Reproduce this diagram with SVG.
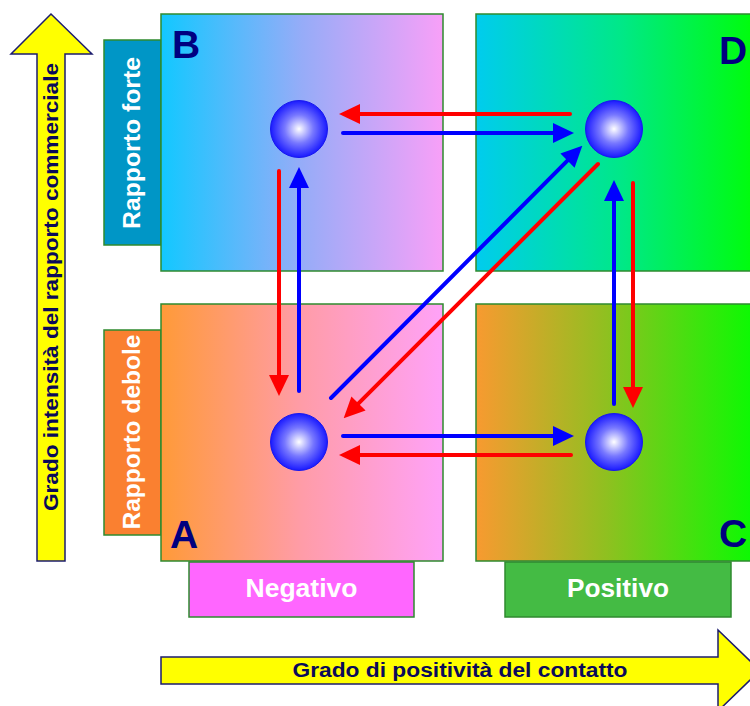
<svg xmlns="http://www.w3.org/2000/svg" width="750" height="706" viewBox="0 0 750 706">
<style>
.quad{stroke:#2f8a2f;stroke-width:1.5}
.lab{stroke:#2f8a2f;stroke-width:1.5}
.yel{fill:#ffff00;stroke:#1c1c6e;stroke-width:1.5}
.axis{font-family:"Liberation Sans",Arial,sans-serif;font-weight:bold;fill:#0a0a5a}
.wt{font-family:"Liberation Sans",Arial,sans-serif;font-weight:bold;fill:#ffffff}
.big{font-family:"Liberation Sans",Arial,sans-serif;font-weight:bold;fill:#000080;font-size:39px}
.sph{fill:url(#sg);stroke:#1818ee;stroke-width:1}
.r{stroke:#ff0000;stroke-width:4;stroke-linecap:round;fill:none;marker-end:url(#mr)}
.b{stroke:#0000ff;stroke-width:4;stroke-linecap:round;fill:none;marker-end:url(#mb)}
</style>
<defs>
<linearGradient id="gB" x1="0" y1="0" x2="1" y2="0"><stop offset="0" stop-color="#12c8ff"/><stop offset="0.5" stop-color="#96acf8"/><stop offset="1" stop-color="#f8a0f8"/></linearGradient>
<linearGradient id="gD" x1="0" y1="0" x2="1" y2="0"><stop offset="0" stop-color="#00ccee"/><stop offset="0.5" stop-color="#00e888"/><stop offset="1" stop-color="#00ff00"/></linearGradient>
<linearGradient id="gA" x1="0" y1="0" x2="1" y2="0"><stop offset="0" stop-color="#ff9a38"/><stop offset="0.5" stop-color="#ff9ca8"/><stop offset="1" stop-color="#ffa2f8"/></linearGradient>
<linearGradient id="gC" x1="0" y1="0" x2="1" y2="0"><stop offset="0" stop-color="#f89a30"/><stop offset="0.45" stop-color="#8fc020"/><stop offset="1" stop-color="#00ff00"/></linearGradient>
<radialGradient id="sg" cx="0.5" cy="0.5" r="0.5"><stop offset="0" stop-color="#ffffff"/><stop offset="0.5" stop-color="#7878ff"/><stop offset="1" stop-color="#1a1aff"/></radialGradient>
<marker id="mr" viewBox="0 -10 21 20" markerWidth="21" markerHeight="20" refX="1" refY="0" orient="auto" markerUnits="userSpaceOnUse"><path d="M0,-10 L21,0 L0,10 Z" fill="#ff0000"/></marker>
<marker id="mb" viewBox="0 -10 21 20" markerWidth="21" markerHeight="20" refX="1" refY="0" orient="auto" markerUnits="userSpaceOnUse"><path d="M0,-10 L21,0 L0,10 Z" fill="#0000ff"/></marker>
</defs>

<g id="axis-y">
<path class="yel" d="M37,561 L37,54 L11,54 L51,14 L92,54 L65,54 L65,561 Z"/>
<text class="axis" font-size="20" transform="translate(58,287) rotate(-90)" text-anchor="middle" textLength="448" lengthAdjust="spacingAndGlyphs">Grado intensità del rapporto commerciale</text>
</g>
<g id="axis-x">
<path class="yel" d="M161,657 L718,657 L718,630 L760,670.5 L718,711 L718,684 L161,684 Z"/>
<text class="axis" font-size="20" x="460" y="677" text-anchor="middle" textLength="335" lengthAdjust="spacingAndGlyphs">Grado di positività del contatto</text>
</g>

<g id="label-forte">
<rect class="lab" x="104" y="40" width="57" height="205" fill="#0096c6"/>
<text class="wt" font-size="23" transform="translate(140,143) rotate(-90)" text-anchor="middle" textLength="172" lengthAdjust="spacingAndGlyphs">Rapporto forte</text>
</g>
<g id="label-debole">
<rect class="lab" x="104" y="330" width="57" height="205" fill="#fa8030"/>
<text class="wt" font-size="23" transform="translate(140,432) rotate(-90)" text-anchor="middle" textLength="195" lengthAdjust="spacingAndGlyphs">Rapporto debole</text>
</g>
<g id="label-negativo">
<rect class="lab" x="189" y="562" width="225" height="55" fill="#ff66ff"/>
<text class="wt" font-size="26" x="301.5" y="597" text-anchor="middle" textLength="112" lengthAdjust="spacingAndGlyphs">Negativo</text>
</g>
<g id="label-positivo">
<rect class="lab" x="505" y="562" width="226" height="55" fill="#44bb44"/>
<text class="wt" font-size="26" x="618" y="597" text-anchor="middle" textLength="102" lengthAdjust="spacingAndGlyphs">Positivo</text>
</g>

<g id="quad-B">
<rect class="quad" x="161" y="14" width="282" height="257" fill="url(#gB)"/>
<text class="big" x="172" y="58">B</text>
</g>
<g id="quad-D">
<rect class="quad" x="476" y="14" width="290" height="257" fill="url(#gD)"/>
<text class="big" x="719" y="64">D</text>
</g>
<g id="quad-A">
<rect class="quad" x="161" y="304" width="282" height="257" fill="url(#gA)"/>
<text class="big" x="170" y="548">A</text>
</g>
<g id="quad-C">
<rect class="quad" x="476" y="304" width="290" height="257" fill="url(#gC)"/>
<text class="big" x="719" y="547">C</text>
</g>

<g id="connectors">
<line class="r" x1="570" y1="114" x2="359" y2="114"/>
<line class="b" x1="343" y1="133" x2="554" y2="133"/>
<line class="r" x1="279" y1="171" x2="279" y2="376"/>
<line class="b" x1="299" y1="391" x2="299" y2="187"/>
<line class="b" x1="331" y1="398" x2="568.2" y2="159.9"/>
<line class="r" x1="598" y1="164" x2="357.8" y2="404.2"/>
<line class="b" x1="614" y1="404" x2="614" y2="200"/>
<line class="r" x1="633" y1="183" x2="633" y2="388"/>
<line class="b" x1="343" y1="436" x2="554" y2="436"/>
<line class="r" x1="571" y1="455" x2="359" y2="455"/>
</g>

<g id="node-B"><circle class="sph" cx="299" cy="129" r="28.5"/></g>
<g id="node-D"><circle class="sph" cx="614" cy="129" r="28.5"/></g>
<g id="node-A"><circle class="sph" cx="299" cy="442" r="28.5"/></g>
<g id="node-C"><circle class="sph" cx="614" cy="442" r="28.5"/></g>
</svg>
